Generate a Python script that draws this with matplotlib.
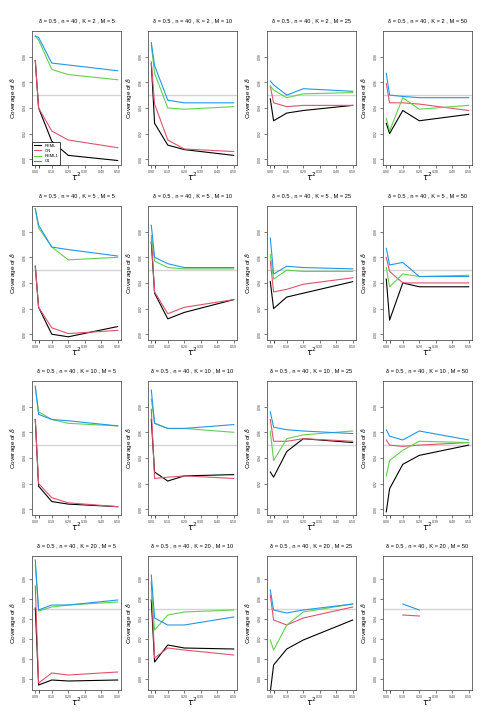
import numpy as np
import matplotlib
matplotlib.use("Agg")
import matplotlib.pyplot as plt

plt.rcParams['font.family'] = ['Liberation Sans', 'DejaVu Sans']

tau2 = [0.0, 0.02, 0.1, 0.2, 0.5]
K_vals = [2, 5, 10, 20]
M_vals = [5, 10, 25, 50]
nan = np.nan

# coverage per panel (row = K, column = M), values at each tau2
reml = [
    [0.977, 0.940, 0.914, 0.903, 0.899], [0.9745, 0.928, 0.911, 0.9075, 0.903],
    [0.947, 0.930, 0.936, 0.938, 0.942], [0.928, 0.920, 0.938, 0.930, 0.935],
    [0.953, 0.921, 0.900, 0.898, 0.906], [0.972, 0.932, 0.912, 0.917, 0.927],
    [0.941, 0.920, 0.929, 0.932, 0.941], [0.943, 0.911, 0.940, 0.937, 0.937],
    [0.970, 0.918, 0.906, 0.904, 0.902], [0.970, 0.929, 0.922, 0.926, 0.927],
    [0.929, 0.925, 0.945, 0.955, 0.952], [0.898, 0.916, 0.935, 0.942, 0.950],
    [0.951, 0.874, 0.879, 0.878, 0.879], [0.959, 0.897, 0.914, 0.911, 0.910],
    [0.867, 0.894, 0.910, 0.919, 0.939], [nan, nan, nan, nan, nan],
]
gn = [
    [0.977, 0.940, 0.922, 0.915, 0.909], [0.976, 0.943, 0.915, 0.908, 0.906],
    [0.957, 0.944, 0.941, 0.942, 0.942], [0.959, 0.944, 0.944, 0.943, 0.938],
    [0.953, 0.921, 0.905, 0.9005, 0.903], [0.975, 0.933, 0.916, 0.921, 0.927],
    [0.957, 0.933, 0.935, 0.939, 0.944], [0.960, 0.949, 0.940, 0.940, 0.940],
    [0.970, 0.920, 0.909, 0.905, 0.902], [0.978, 0.924, 0.925, 0.926, 0.924],
    [0.970, 0.953, 0.953, 0.955, 0.953], [0.954, 0.950, 0.949, 0.950, 0.952],
    [0.973, 0.876, 0.886, 0.884, 0.887], [0.977, 0.901, 0.911, 0.909, 0.904],
    [0.964, 0.939, 0.934, 0.941, 0.952], [nan, nan, 0.944, 0.943, nan],
]
reml1 = [
    [0.996, 0.993, 0.970, 0.966, 0.962], [0.989, 0.967, 0.940, 0.939, 0.941],
    [0.957, 0.954, 0.948, 0.951, 0.952], [0.932, 0.922, 0.948, 0.939, 0.942],
    [0.998, 0.983, 0.968, 0.958, 0.960], [0.977, 0.957, 0.952, 0.951, 0.951],
    [0.962, 0.943, 0.950, 0.949, 0.949], [0.952, 0.937, 0.947, 0.945, 0.946],
    [0.995, 0.976, 0.970, 0.967, 0.965], [0.986, 0.967, 0.963, 0.963, 0.960],
    [0.961, 0.938, 0.955, 0.958, 0.961], [0.926, 0.938, 0.946, 0.953, 0.952],
    [0.994, 0.948, 0.952, 0.954, 0.957], [0.969, 0.929, 0.944, 0.947, 0.949],
    [0.919, 0.909, 0.934, 0.947, 0.955], [nan, nan, nan, nan, nan],
]
g1 = [
    [0.996, 0.995, 0.975, 0.9735, 0.969], [0.991, 0.973, 0.946, 0.944, 0.944],
    [0.961, 0.958, 0.950, 0.955, 0.953], [0.967, 0.950, 0.949, 0.948, 0.948],
    [0.998, 0.985, 0.968, 0.966, 0.961], [0.985, 0.960, 0.955, 0.952, 0.952],
    [0.975, 0.947, 0.953, 0.952, 0.951], [0.967, 0.954, 0.956, 0.945, 0.945],
    [0.996, 0.974, 0.970, 0.969, 0.965], [0.993, 0.967, 0.963, 0.963, 0.966],
    [0.976, 0.964, 0.962, 0.961, 0.959], [0.962, 0.957, 0.954, 0.961, 0.954],
    [0.999, 0.949, 0.954, 0.954, 0.959], [0.984, 0.941, 0.934, 0.934, 0.942],
    [0.969, 0.949, 0.946, 0.949, 0.955], [nan, nan, 0.955, 0.949, nan],
]
methods = ["REML", "GN", "REML1", "G1"]
colors = ["black", "#DF536B", "#61D04F", "#2297E6"]

W, H = 495, 726
fig = plt.figure(figsize=(W / 100, H / 100), dpi=100)
col_left = [32, 148, 267, 383]
row_top = [31, 206, 381, 556]
aw, ah = 89, 134

for r, K in enumerate(K_vals):
    for c, M in enumerate(M_vals):
        i = r * 4 + c
        ax = fig.add_axes([col_left[c] / W, 1 - (row_top[r] + ah) / H, aw / W, ah / H])
        for series, col, lab in zip([reml, gn, reml1, g1], colors, methods):
            ax.plot(tau2, series[i], color=col, lw=0.8, label=lab)
        ax.axhline(0.95, color="lightgray", lw=1, zorder=0)
        ax.set_xlim(-0.02, 0.52)
        if r < 3:
            ax.set_ylim(0.8955, 1.0)
            ax.set_yticks([0.90, 0.92, 0.94, 0.96, 0.98])
        else:
            ax.set_ylim(0.869, 1.003)
            ax.set_yticks([0.88, 0.90, 0.92, 0.94, 0.96, 0.98])
        ax.set_xticks([0.0, 0.1, 0.2, 0.3, 0.4, 0.5])
        ax.set_xticklabels(["0.00", "0.10", "0.20", "0.30", "0.40", "0.50"])
        ax.set_xticks([0.02], minor=True)
        ax.tick_params(axis="x", which="minor", length=2, width=0.5)
        ax.set_yticklabels([f"{v:.2f}" for v in ax.get_yticks()], rotation=90, va="center")
        ax.tick_params(labelsize=2.5, length=2, width=0.5, pad=1.5, colors="#444444")
        for s in ax.spines.values():
            s.set_linewidth(0.6)
            s.set_color("#555555")
        ax.set_title(f"δ = 0.5 , n = 40 , K = {K} , M = {M}", fontsize=4.1, pad=6)
        ax.set_ylabel(r"Coverage of $\hat{\delta}$", fontsize=4.6, labelpad=3)
        ax.set_xlabel(r"$\tau^2$", fontsize=6, labelpad=-2)
        if i == 0:
            leg = ax.legend(loc="lower left", fontsize=3, handlelength=1.8, borderpad=0.4,
                            labelspacing=0.3, fancybox=False, borderaxespad=0, framealpha=1)
            leg.get_frame().set_edgecolor("black")
            leg.get_frame().set_linewidth(0.5)

fig.savefig("out.png", dpi=100)
